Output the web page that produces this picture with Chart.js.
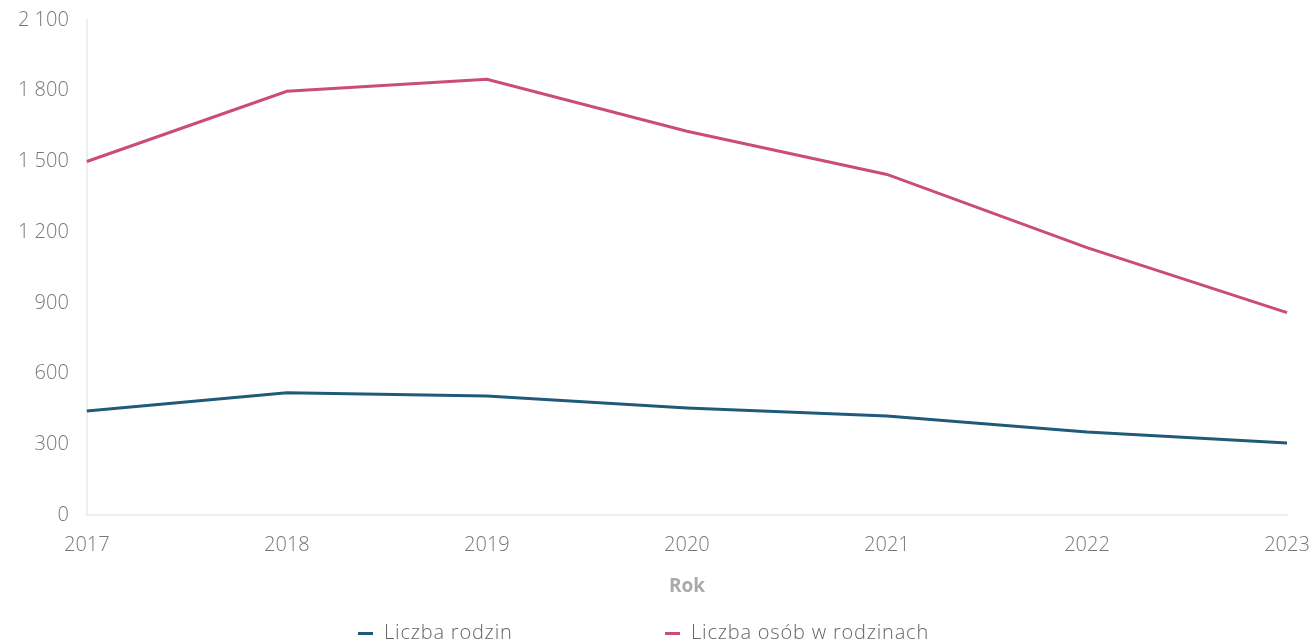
<!DOCTYPE html>
<html>
<head>
<meta charset="utf-8">
<script src="https://cdn.jsdelivr.net/npm/chart.js@4/dist/chart.umd.min.js"></script>
<style>
  html, body { margin: 0; padding: 0; background: #fff; }
  #wrap { position: relative; width: 1313px; height: 642px; }
  #legend { position: absolute; left: 0; top: 619px; width: 1313px; height: 26px;
    font-family: "Open Sans", sans-serif; font-weight: 300; font-size: 20px; color: #666; letter-spacing: 0.8px; }
  .item { position: absolute; top: 0; white-space: nowrap; line-height: 26px; }
  .sw { display: inline-block; width: 15px; height: 3px; vertical-align: middle; margin-right: 11px; position: relative; top: 0px; }
</style>
</head>
<body>
<div id="wrap">
  <canvas id="c" width="1313" height="642"></canvas>
  <div id="legend"></div>
</div>
<script>
const years = ["2017", "2018", "2019", "2020", "2021", "2022", "2023"];
const liczbaRodzin = [442, 519, 506, 455, 421, 353, 306];
const liczbaOsob = [1500, 1798, 1849, 1628, 1445, 1135, 859];
const seriesNames = ["Liczba rodzin", "Liczba osób w rodzinach"];
const seriesColors = ["#1f5b78", "#cc4d73"];
const yTicks = [0, 300, 600, 900, 1200, 1500, 1800, 2100];
const xTitle = "Rok";

function fmt(v) {
  return String(v).replace(/\B(?=(\d{3})+(?!\d))/g, " ");
}

const font = { family: "'Open Sans', sans-serif", size: 20, weight: 300 };

new Chart(document.getElementById("c"), {
  type: "line",
  data: {
    labels: years,
    datasets: [
      { label: seriesNames[0], data: liczbaRodzin, borderColor: seriesColors[0], backgroundColor: seriesColors[0], borderWidth: 3, pointRadius: 0, tension: 0 },
      { label: seriesNames[1], data: liczbaOsob, borderColor: seriesColors[1], backgroundColor: seriesColors[1], borderWidth: 3, pointRadius: 0, tension: 0 }
    ]
  },
  options: {
    responsive: false,
    animation: false,
    layout: { padding: { left: 0, top: 0, right: 0, bottom: 44 } },
    plugins: { legend: { display: false }, tooltip: { enabled: false } },
    scales: {
      x: {
        grid: { display: false, drawTicks: false },
        border: { display: true, color: "#eeeeee", width: 2 },
        ticks: { color: "#777", font: font, padding: 18, maxRotation: 0 },
        title: { display: true, text: xTitle, color: "#aaa", font: { family: "'Open Sans', sans-serif", size: 19, weight: "bold" }, padding: { top: 0, bottom: 0 } },
        afterFit: (axis) => { axis.paddingRight = 26; axis.paddingLeft = 0; }
      },
      y: {
        min: 0, max: 2100,
        afterBuildTicks: (axis) => { axis.ticks = yTicks.map(v => ({ value: v })); },
        grid: { display: false, drawTicks: false },
        border: { display: true, color: "#eeeeee", width: 2 },
        ticks: { color: "#777", font: font, padding: 18, callback: (v) => fmt(v) },
        afterFit: (axis) => { axis.paddingTop = 20; }
      }
    }
  }
});

const legend = document.getElementById("legend");
const positions = [358, 665];
seriesNames.forEach((n, i) => {
  const d = document.createElement("div");
  d.className = "item";
  d.style.left = positions[i] + "px";
  const s = document.createElement("span");
  s.className = "sw";
  s.style.background = seriesColors[i];
  d.appendChild(s);
  d.appendChild(document.createTextNode(n));
  legend.appendChild(d);
});
</script>
</body>
</html>
